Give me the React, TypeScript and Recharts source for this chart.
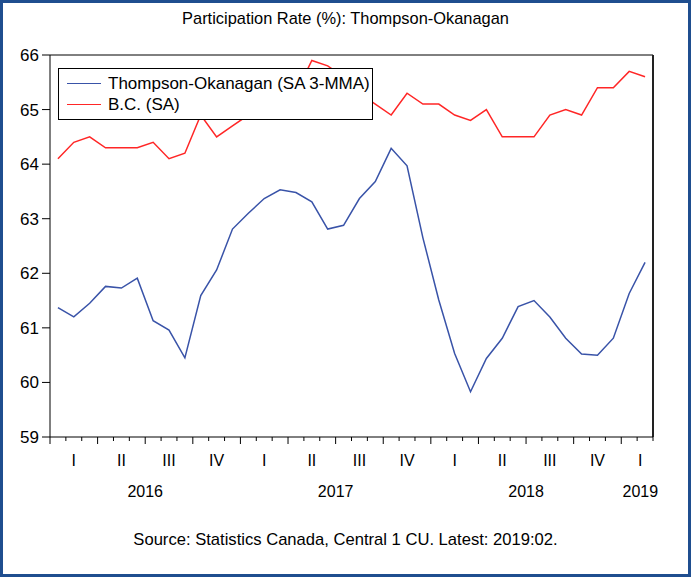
import React from 'react';
import { LineChart, Line, XAxis, YAxis, Legend, ReferenceLine } from 'recharts';

// monthly, 2016:01 .. 2019:02
const months = [
  '2016:01', '2016:02', '2016:03', '2016:04', '2016:05', '2016:06',
  '2016:07', '2016:08', '2016:09', '2016:10', '2016:11', '2016:12',
  '2017:01', '2017:02', '2017:03', '2017:04', '2017:05', '2017:06',
  '2017:07', '2017:08', '2017:09', '2017:10', '2017:11', '2017:12',
  '2018:01', '2018:02', '2018:03', '2018:04', '2018:05', '2018:06',
  '2018:07', '2018:08', '2018:09', '2018:10', '2018:11', '2018:12',
  '2019:01', '2019:02',
];

const thompsonOkanagan = [
  61.37, 61.2, 61.45, 61.76, 61.73, 61.91, 61.13, 60.96, 60.45, 61.59, 62.06, 62.81,
  63.1, 63.37, 63.53, 63.48, 63.31, 62.81, 62.88, 63.37, 63.68, 64.29, 63.97, 62.65,
  61.51, 60.53, 59.83, 60.44, 60.81, 61.39, 61.5, 61.2, 60.81, 60.52, 60.5, 60.81,
  61.63, 62.2,
];

const bcRate = [
  64.1, 64.4, 64.5, 64.3, 64.3, 64.3, 64.4, 64.1, 64.2, 64.9, 64.5, 64.7,
  64.9, 65.0, 65.1, 65.3, 65.9, 65.8, 65.6, 65.3, 65.1, 64.9, 65.3, 65.1,
  65.1, 64.9, 64.8, 65.0, 64.5, 64.5, 64.5, 64.9, 65.0, 64.9, 65.4, 65.4,
  65.7, 65.6,
];

const seriesNames = ['Thompson-Okanagan (SA 3-MMA)', 'B.C. (SA)'];

const yTicks = [59, 60, 61, 62, 63, 64, 65, 66];
const monthEdges = [
  0, 1, 2, 3, 4, 5, 6, 7, 8, 9, 10, 11, 12, 13, 14, 15, 16, 17, 18, 19,
  20, 21, 22, 23, 24, 25, 26, 27, 28, 29, 30, 31, 32, 33, 34, 35, 36, 37, 38,
];
const quarterTicks = [1.5, 4.5, 7.5, 10.5, 13.5, 16.5, 19.5, 22.5, 25.5, 28.5, 31.5, 34.5, 37.2];
const quarterLabels = ['I', 'II', 'III', 'IV'];
const yearTicks = [6, 18, 30, 37.2];
const yearLabels = ['2016', '2017', '2018', '2019'];

const chartData = months.map((m, i) => ({
  month: m,
  t: i + 0.5,
  to: thompsonOkanagan[i],
  bc: bcRate[i],
}));

const FONT = '"Liberation Sans", Arial, sans-serif';
const BLUE = '#3953a8';
const RED = '#ff2626';

const MonthTick = ({ x, y, payload }: any) => {
  const len = payload.value % 3 === 0 ? 7 : 4;
  return <line x1={x} x2={x} y1={y} y2={y + len} stroke="#000" strokeWidth={1} />;
};

const LegendBox = ({ payload }: any) => {
  const items = [...(payload || [])].sort(
    (a: any, b: any) => seriesNames.indexOf(a.value) - seriesNames.indexOf(b.value)
  );
  return (
    <div
      style={{
        width: 315,
        height: 52,
        boxSizing: 'border-box',
        border: '1px solid #000',
        background: '#fff',
        padding: '4px 0 0 8px',
        fontFamily: FONT,
        fontSize: 17,
        color: '#000',
      }}
    >
      {items.map((p: any) => (
        <div key={p.value} style={{ display: 'flex', alignItems: 'center', height: 21 }}>
          <span style={{ display: 'inline-block', width: 34, borderTop: `1.5px solid ${p.color}`, marginRight: 7 }} />
          <span style={{ lineHeight: '21px' }}>{p.value}</span>
        </div>
      ))}
    </div>
  );
};

export default function App() {
  return (
    <div style={{ position: 'fixed', left: 0, top: 0, width: 691, height: 579, background: '#fff', fontFamily: FONT }}>
      <div style={{ position: 'absolute', left: 0, right: 0, top: 9, textAlign: 'center', fontSize: 16.4, color: '#000' }}>
        Participation Rate (%): Thompson-Okanagan
      </div>

      <LineChart
        width={691}
        height={579}
        data={chartData}
        margin={{ top: 55, right: 38, bottom: 72, left: 4 }}
        style={{ position: 'absolute', left: 0, top: 0 }}
      >
        <XAxis
          dataKey="t"
          type="number"
          domain={[0, 38]}
          ticks={monthEdges}
          interval={0}
          height={10}
          tickSize={0}
          tickMargin={0}
          tickLine={false}
          axisLine={{ stroke: '#000' }}
          tick={<MonthTick />}
        />
        <XAxis
          xAxisId="q"
          dataKey="t"
          type="number"
          domain={[0, 38]}
          ticks={quarterTicks}
          interval={0}
          height={30}
          tickSize={0}
          tickMargin={8}
          tickLine={false}
          axisLine={false}
          tick={{ fill: '#000', fontSize: 16, fontFamily: FONT }}
          tickFormatter={(v: number) => quarterLabels[Math.floor(v / 3) % 4]}
        />
        <XAxis
          xAxisId="y"
          dataKey="t"
          type="number"
          domain={[0, 38]}
          ticks={yearTicks}
          interval={0}
          height={30}
          tickSize={0}
          tickMargin={9}
          tickLine={false}
          axisLine={false}
          tick={{ fill: '#000', fontSize: 16, fontFamily: FONT }}
          tickFormatter={(v: number) => yearLabels[yearTicks.indexOf(v)]}
        />
        <YAxis
          type="number"
          domain={[59, 66]}
          ticks={yTicks}
          interval={0}
          width={46}
          tickSize={8}
          tickMargin={3}
          axisLine={{ stroke: '#000' }}
          tickLine={{ stroke: '#000' }}
          tick={{ fill: '#000', fontSize: 17, fontFamily: FONT }}
        />
        <ReferenceLine y={66} stroke="#000" strokeWidth={1} />
        <ReferenceLine x={38} stroke="#222" strokeWidth={2} />
        <Line
          type="linear"
          dataKey="to"
          name={seriesNames[0]}
          stroke={BLUE}
          strokeWidth={1.5}
          dot={false}
          isAnimationActive={false}
        />
        <Line
          type="linear"
          dataKey="bc"
          name={seriesNames[1]}
          stroke={RED}
          strokeWidth={1.5}
          dot={false}
          isAnimationActive={false}
        />
        <Legend
          layout="horizontal"
          verticalAlign="middle"
          align="center"
          content={<LegendBox />}
          wrapperStyle={{ left: 58, top: 68, width: 315, height: 52 }}
        />
      </LineChart>

      <div style={{ position: 'absolute', left: 0, right: 0, top: 530, textAlign: 'center', fontSize: 16.6, color: '#000' }}>
        Source: Statistics Canada, Central 1 CU. Latest: 2019:02.
      </div>

      <div
        style={{
          position: 'absolute',
          left: 0,
          top: 0,
          width: 691,
          height: 577,
          boxSizing: 'border-box',
          border: '3px solid #1f4e8f',
          pointerEvents: 'none',
        }}
      />
    </div>
  );
}
